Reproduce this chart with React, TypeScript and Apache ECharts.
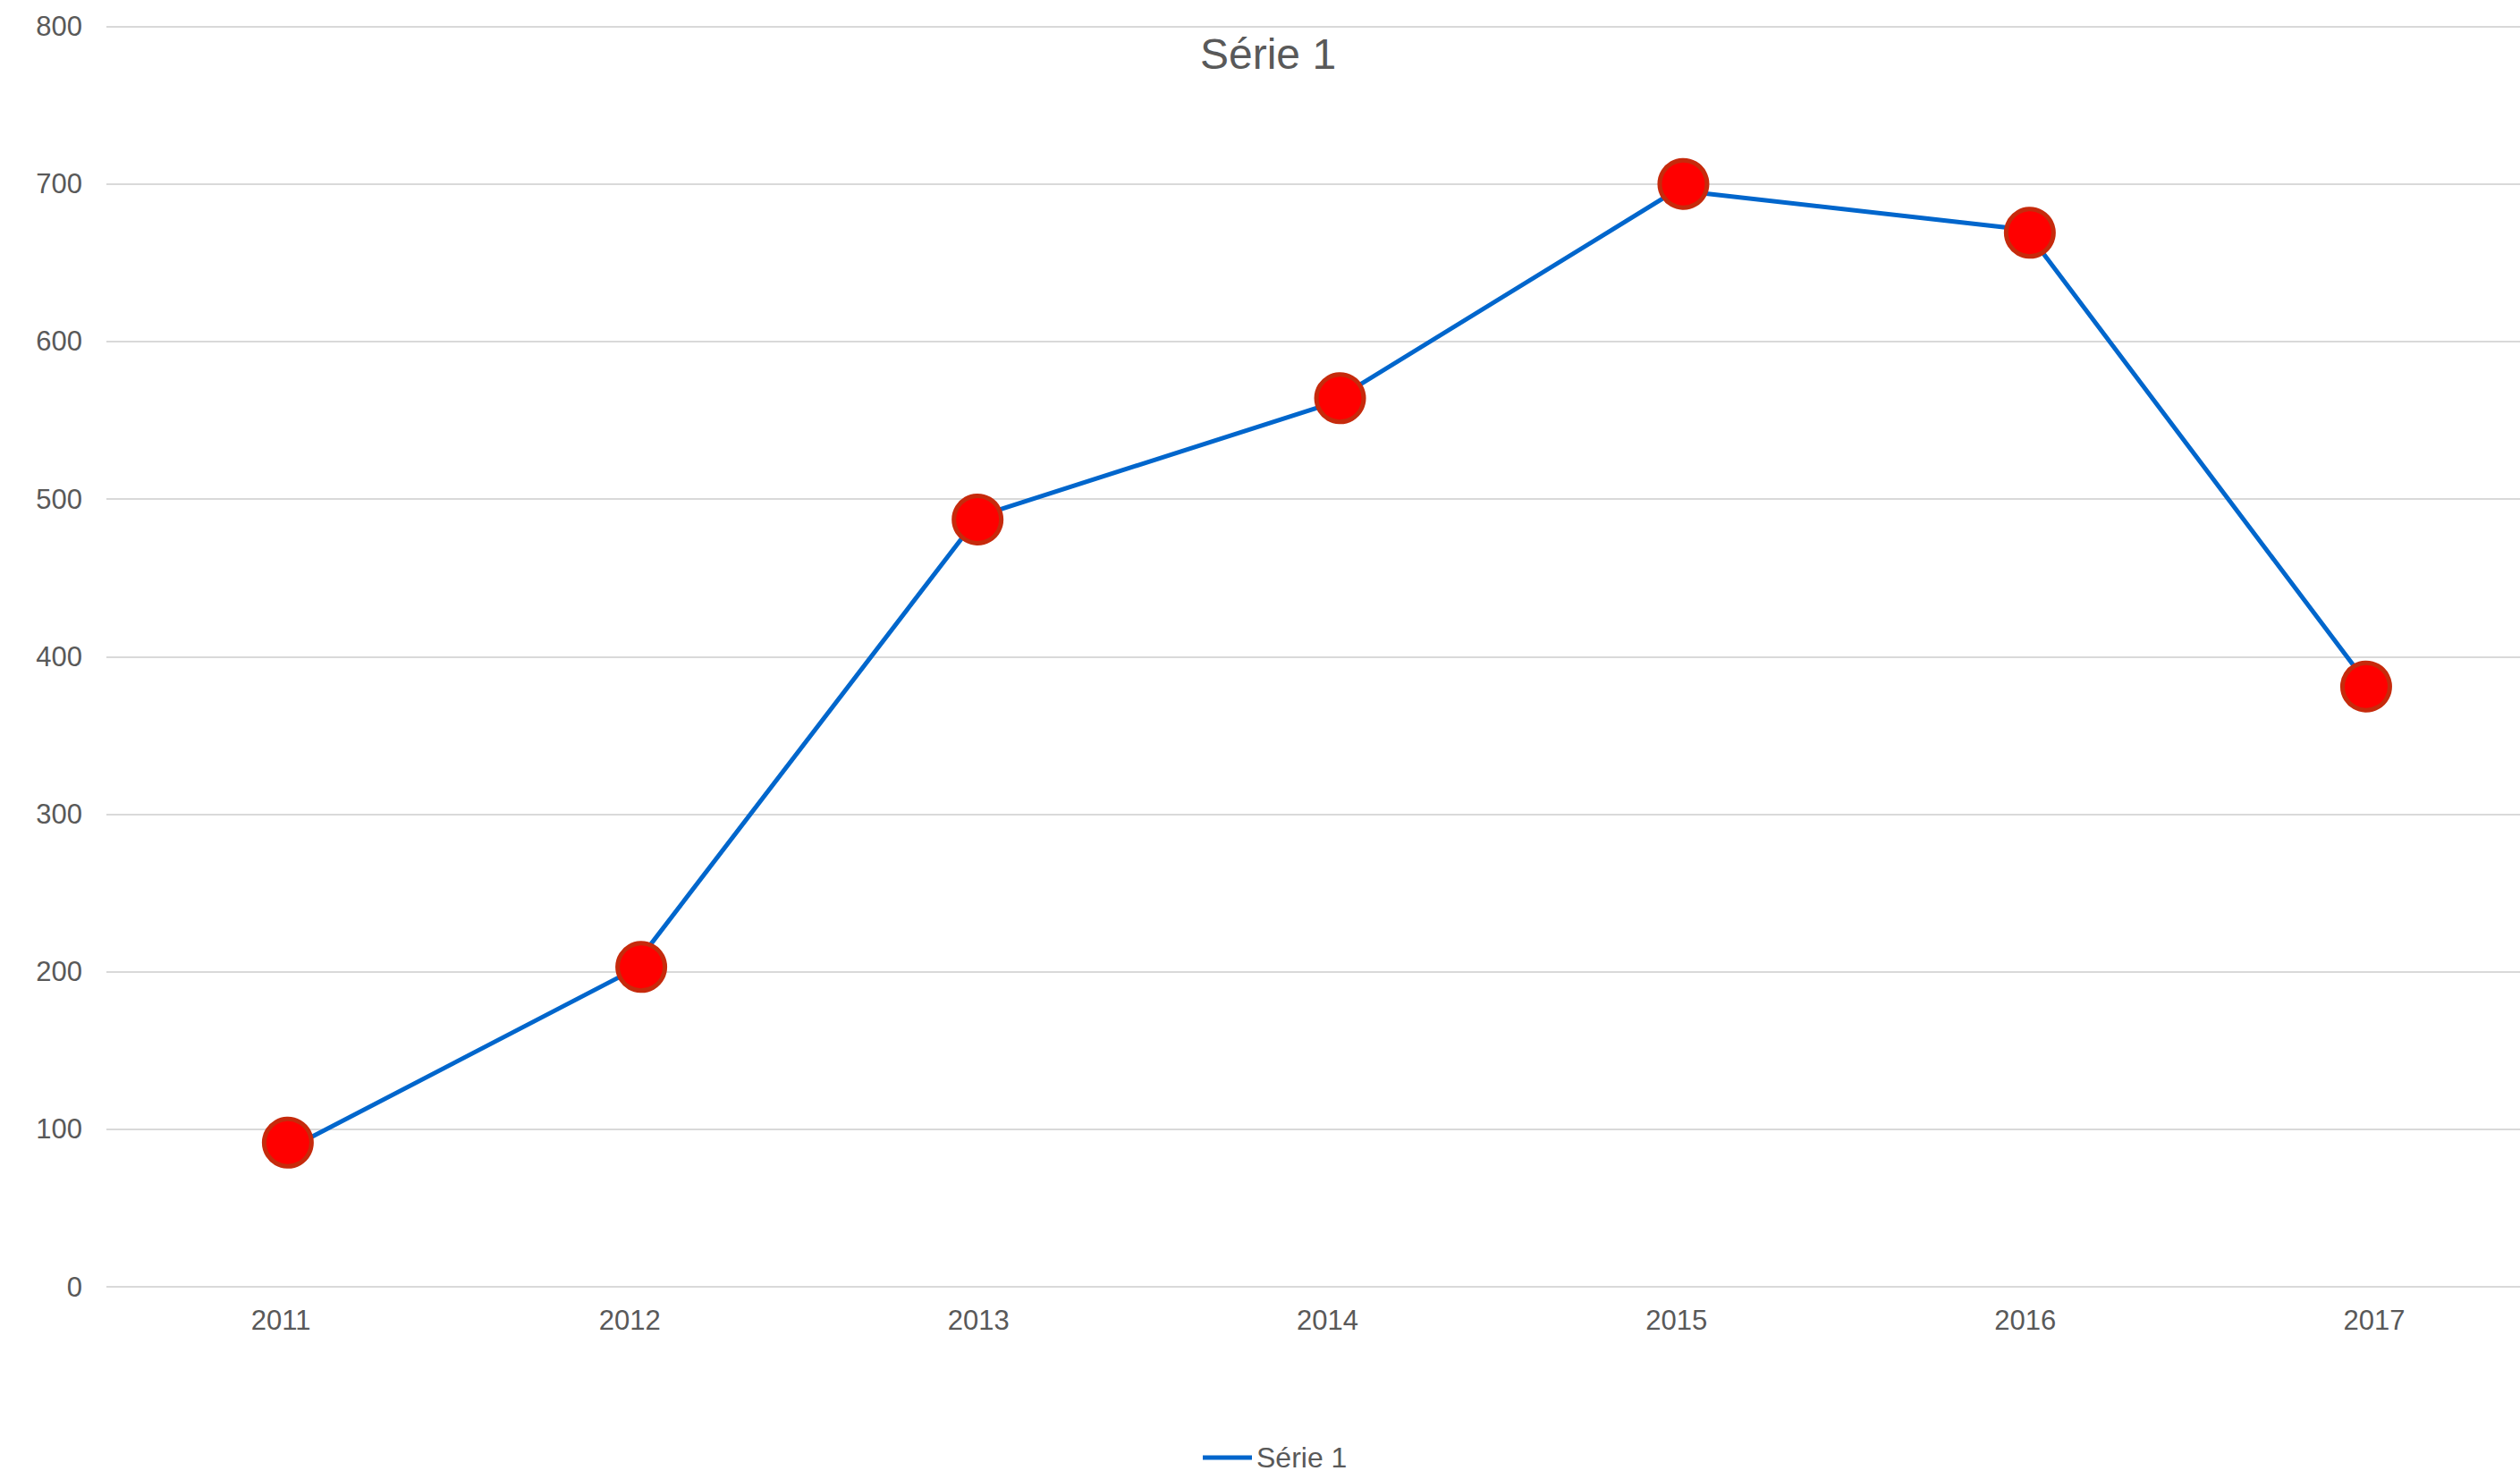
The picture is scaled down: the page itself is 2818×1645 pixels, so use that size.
import React, { useEffect, useRef } from "react";
import * as echarts from "echarts";

const categories = ["2011", "2012", "2013", "2014", "2015", "2016", "2017"];
const lineValues = [85, 200, 489, 560, 696, 671, 377];
const markerYears = [2011.02, 2012.033, 2012.997, 2014.036, 2015.02, 2016.013, 2016.977];
const markerValues = [91.5, 203, 487, 564, 700, 669, 381];
const yTicks = { min: 0, max: 800, interval: 100 };
const seriesName = "Série 1";

const FONT = "'Liberation Sans', Arial, sans-serif";
const TEXT = "#595959";

export default function App() {
  const ref = useRef<HTMLDivElement>(null);
  useEffect(() => {
    if (!ref.current) return;
    const chart = echarts.init(ref.current, null, { renderer: "svg" });
    chart.setOption({
      animation: false,
      backgroundColor: "#ffffff",
      title: {
        text: seriesName,
        left: 1342,
        top: 36,
        padding: 0,
        textStyle: { fontFamily: FONT, fontSize: 48, fontWeight: "normal", color: TEXT },
      },
      legend: {
        data: [seriesName],
        left: 1345,
        top: 1614,
        padding: 0,
        icon: "rect",
        itemWidth: 55,
        itemHeight: 5,
        textStyle: { fontFamily: FONT, fontSize: 32, color: TEXT },
      },
      grid: { left: 119, top: 29.5, right: 0, bottom: 206, containLabel: false },
      xAxis: [
        {
          type: "category",
          data: categories,
          boundaryGap: true,
          axisLine: { show: false },
          axisTick: { show: false },
          axisLabel: { fontFamily: FONT, fontSize: 31, color: TEXT, margin: 22 },
          splitLine: { show: false },
        },
        {
          type: "value",
          min: 2010.5,
          max: 2017.5,
          show: false,
          splitLine: { show: false },
        },
      ],
      yAxis: {
        type: "value",
        min: yTicks.min,
        max: yTicks.max,
        interval: yTicks.interval,
        axisLine: { show: false },
        axisTick: { show: false },
        axisLabel: { fontFamily: FONT, fontSize: 31, color: TEXT, margin: 27 },
        splitLine: { lineStyle: { color: "#d9d9d9", width: 2 } },
      },
      series: [
        {
          name: seriesName,
          type: "line",
          data: lineValues,
          xAxisIndex: 0,
          symbol: "none",
          lineStyle: { color: "#0066CC", width: 5 },
          itemStyle: { color: "#0066CC" },
          z: 2,
        },
        {
          name: "marqueurs",
          type: "scatter",
          xAxisIndex: 1,
          data: markerYears.map((x, i) => [x, markerValues[i]]),
          symbol: "circle",
          symbolSize: 53,
          itemStyle: { color: "#FF0000", borderColor: "#C62A0C", borderWidth: 5, opacity: 1 },
          z: 3,
        },
      ],
    });
    return () => chart.dispose();
  }, []);
  return (
    <div style={{ position: "absolute", left: 0, top: 0, width: 2818, height: 1645, overflow: "hidden" }}>
      <div ref={ref} style={{ position: "absolute", left: 0, top: 0, width: 2850, height: 1645 }} />
    </div>
  );
}
